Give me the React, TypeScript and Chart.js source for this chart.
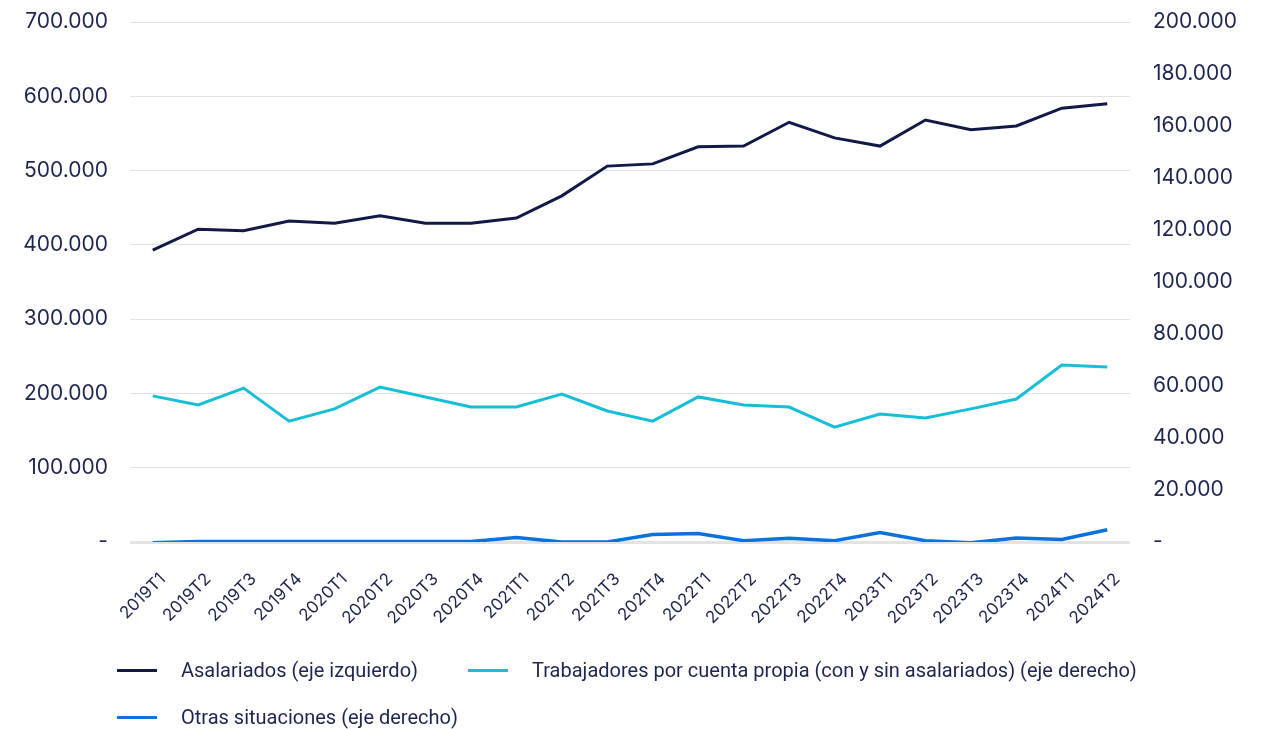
import React, { useEffect, useRef } from "react";
import { Chart, registerables } from "chart.js";

Chart.register(...registerables);

const categories = [
  "2019T1", "2019T2", "2019T3", "2019T4",
  "2020T1", "2020T2", "2020T3", "2020T4",
  "2021T1", "2021T2", "2021T3", "2021T4",
  "2022T1", "2022T2", "2022T3", "2022T4",
  "2023T1", "2023T2", "2023T3", "2023T4",
  "2024T1", "2024T2",
];

const asalariados = [
  393000, 421000, 419000, 432000,
  429000, 439000, 429000, 429000,
  436000, 466000, 506000, 509000,
  532000, 533000, 565000, 544000,
  533000, 568000, 555000, 560000,
  584000, 590000,
];

const cuentaPropia = [
  56200, 52700, 59200, 46500,
  51200, 59600, 55800, 51900,
  51900, 56900, 50400, 46500,
  55800, 52700, 51900, 44200,
  49200, 47700, 51200, 55000,
  68100, 67300,
];

const otras = [
  -250, 200, 200, 200,
  200, 200, 200, 200,
  1700, 0, 0, 2900,
  3300, 500, 1400, 500,
  3600, 500, -300, 1500,
  1000, 4700,
];

const seriesLabels = [
  "Asalariados (eje izquierdo)",
  "Trabajadores por cuenta propia (con y sin asalariados) (eje derecho)",
  "Otras situaciones (eje derecho)",
];

const colors = ["#111a47", "#16bfd7", "#0b72dd"];
const textColor = "#1e2550";

const fmt = (v: number) =>
  v === 0 ? "-" : String(Math.round(v)).replace(/\B(?=(\d{3})+(?!\d))/g, ".");

export default function App() {
  const ref = useRef<HTMLCanvasElement | null>(null);

  useEffect(() => {
    if (!ref.current) return;
    const chart = new Chart(ref.current, {
      type: "line",
      data: {
        labels: categories,
        datasets: [
          {
            label: seriesLabels[0],
            data: asalariados,
            borderColor: colors[0],
            backgroundColor: colors[0],
            borderWidth: 3,
            pointRadius: 0,
            yAxisID: "y",
            order: 1,
          },
          {
            label: seriesLabels[1],
            data: cuentaPropia,
            borderColor: colors[1],
            backgroundColor: colors[1],
            borderWidth: 3,
            pointRadius: 0,
            yAxisID: "y1",
            order: 2,
          },
          {
            label: seriesLabels[2],
            data: otras,
            borderColor: colors[2],
            backgroundColor: colors[2],
            borderWidth: 3.5,
            pointRadius: 0,
            yAxisID: "y1",
            order: 0,
          },
        ],
      },
      options: {
        responsive: false,
        animation: false,
        layout: { padding: { top: 22, bottom: 0, left: 0, right: 0 } },
        plugins: {
          legend: { display: false },
          tooltip: { enabled: false },
        },
        scales: {
          x: {
            offset: true,
            grid: { display: false },
            border: { display: false },
            ticks: {
              color: textColor,
              font: { family: "Inter", size: 17 },
              maxRotation: 45,
              minRotation: 45,
              padding: 19,
              labelOffset: 10,
              autoSkip: false,
            },
            afterFit: (s: any) => {
              s.height = 187;
            },
          },
          y: {
            position: "left",
            min: 0,
            max: 700000,
            grid: {
              drawTicks: true,
              tickLength: 22,
              tickColor: "transparent",
              color: "#e3e3e3",
              lineWidth: (ctx: any) => (ctx.tick && ctx.tick.value === 0 ? 3 : 1),
            },
            border: { display: false },
            ticks: {
              stepSize: 100000,
              color: textColor,
              font: { family: "Inter", size: 21 },
              padding: 0,
              callback: (v: any) => fmt(Number(v)),
            },
            afterFit: (s: any) => {
              s.width = 130;
            },
          },
          y1: {
            position: "right",
            min: 0,
            max: 200000,
            grid: {
              display: true,
              drawOnChartArea: false,
              drawTicks: true,
              tickLength: 23,
              tickColor: "transparent",
              color: "transparent",
            },
            border: { display: false },
            ticks: {
              stepSize: 20000,
              color: textColor,
              font: { family: "Inter", size: 21 },
              padding: 0,
              callback: (v: any) => fmt(Number(v)),
            },
            afterFit: (s: any) => {
              s.width = 131;
            },
          },
        },
      },
    });
    return () => chart.destroy();
  }, []);

  const legendItem = (i: number) => (
    <div
      key={i}
      style={{ display: "flex", alignItems: "center", height: 22 }}
    >
      <span
        style={{
          display: "inline-block",
          width: 40,
          height: 3,
          background: colors[i],
          marginRight: 24,
        }}
      />
      <span
        style={{
          fontFamily: "Roboto",
          fontSize: 20,
          color: textColor,
          whiteSpace: "nowrap",
          lineHeight: "22px",
        }}
      >
        {seriesLabels[i]}
      </span>
    </div>
  );

  return (
    <div
      style={{
        position: "absolute",
        left: 0,
        top: 0,
        width: 1261,
        height: 729,
        background: "#ffffff",
      }}
    >
      <canvas ref={ref} width={1261} height={729} style={{ display: "block" }} />
      <div
        style={{
          position: "absolute",
          left: 117,
          top: 659,
          width: 1100,
          display: "flex",
          flexWrap: "wrap",
          columnGap: 50,
          rowGap: 25,
        }}
      >
        {[0, 1, 2].map(legendItem)}
      </div>
    </div>
  );
}
